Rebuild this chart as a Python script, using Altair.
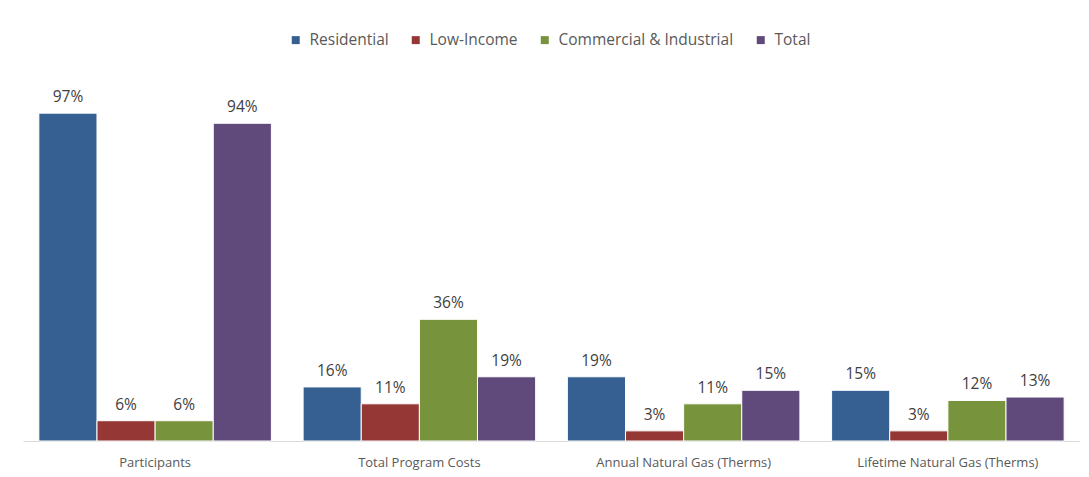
import altair as alt
import pandas as pd

categories = ["Participants", "Total Program Costs", "Annual Natural Gas (Therms)", "Lifetime Natural Gas (Therms)"]
series = ["Residential", "Low-Income", "Commercial & Industrial", "Total"]
colors = ["#366092", "#953735", "#77933C", "#604A7B"]
residential = [97, 16, 19, 15]
low_income = [6, 11, 3, 3]
commercial = [6, 36, 11, 12]
total = [94, 19, 15, 13]

vals = [residential, low_income, commercial, total]
rows = []
for s, v in zip(series, vals):
    for c, x in zip(categories, v):
        rows.append({"category": c, "series": s, "value": x, "label": f"{x}%"})
df = pd.DataFrame(rows)

FONT = "Open Sans"

x = alt.X("category:N", sort=categories, title=None,
          scale=alt.Scale(paddingInner=0.12, paddingOuter=0.06),
          axis=alt.Axis(labelAngle=0, labelFont=FONT, labelFontSize=13, labelColor="#595959",
                        labelPadding=15, labelLimit=400, ticks=False, domainColor="#D9D9D9", domainWidth=1))
xo = alt.XOffset("series:N", sort=series, scale=alt.Scale(paddingInner=0, paddingOuter=0))
y = alt.Y("value:Q", scale=alt.Scale(domain=[0, 100]), axis=None)

bars = alt.Chart(df).mark_bar(stroke="white", strokeWidth=1).encode(
    x=x, xOffset=xo, y=y,
    color=alt.Color("series:N", sort=series,
                    scale=alt.Scale(domain=series, range=colors),
                    legend=alt.Legend(title=None, orient="none", direction="horizontal",
                                      legendX=265, legendY=-71,
                                      symbolType="square", symbolSize=64, symbolStrokeWidth=0,
                                      labelFont=FONT, labelFontSize=15.5, labelColor="#595959",
                                      labelLimit=400, labelOffset=6, columnPadding=19))
)

text = alt.Chart(df).mark_text(baseline="bottom", dy=-8, font=FONT, fontSize=15.5, color="#404040").encode(
    x=x, xOffset=xo, y=y, text="label:N"
)

chart = alt.layer(bars, text).properties(
    width=1057, height=338,
    autosize=alt.AutoSizeParams(type="none"),
    padding={"left": 15, "top": 95, "right": 0, "bottom": 34},
    background="white"
).configure_view(stroke=None)

chart.save("out.html", embed_options={"renderer": "svg", "actions": False})
